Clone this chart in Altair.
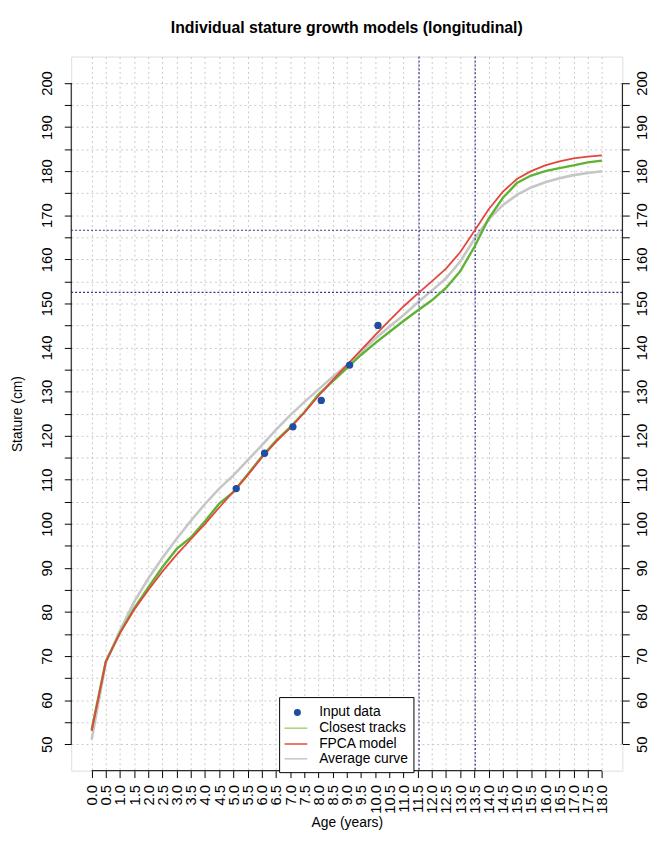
import altair as alt
import pandas as pd

# ---------------- data ----------------
ages = [0.0, 0.5, 1.0, 1.5, 2.0, 2.5, 3.0, 3.5, 4.0, 4.5, 5.0, 5.5, 6.0, 6.5,
        7.0, 7.5, 8.0, 8.5, 9.0, 9.5, 10.0, 10.5, 11.0, 11.5, 12.0, 12.5,
        13.0, 13.5, 14.0, 14.5, 15.0, 15.5, 16.0, 16.5, 17.0, 17.5, 18.0]

fpca_model = [53.0, 68.7, 75.2, 80.5, 85.0, 89.2, 93.0, 96.5, 100.0, 103.7,
              107.3, 111.0, 115.0, 118.6, 121.7, 125.2, 129.0, 132.6, 136.0,
              139.4, 142.8, 146.1, 149.3, 152.2, 155.0, 157.9, 161.6, 166.4,
              171.3, 175.3, 178.2, 180.0, 181.3, 182.2, 182.9, 183.3, 183.6]

closest_tracks = [53.3, 68.8, 75.3, 80.8, 85.6, 90.2, 94.3, 96.9, 100.6, 104.6,
                  107.2, 111.2, 115.2, 118.8, 121.9, 125.3, 129.3, 132.3, 135.3,
                  138.3, 141.0, 143.5, 146.0, 148.4, 150.7, 153.5, 157.3, 162.8,
                  169.2, 173.9, 177.3, 179.0, 180.0, 180.7, 181.3, 182.0, 182.4]

average_curve = [51.0, 68.5, 75.8, 82.3, 87.6, 92.3, 96.6, 100.7, 104.5, 108.0,
                 111.0, 114.4, 117.8, 121.3, 124.6, 127.6, 130.5, 133.3, 136.0,
                 139.0, 142.0, 144.7, 147.3, 150.2, 152.9, 155.7, 159.5, 164.6,
                 169.0, 172.3, 174.6, 176.3, 177.5, 178.4, 179.1, 179.6, 180.0]

input_ages = [5.1, 6.1, 7.1, 8.1, 9.1, 10.1]
input_stature = [108, 116, 122, 128, 136, 145]

ref_ages = [11.55, 13.53]
ref_stature = [152.5, 166.6]

y_ticks = [50, 55, 60, 65, 70, 75, 80, 85, 90, 95, 100, 105, 110, 115, 120,
           125, 130, 135, 140, 145, 150, 155, 160, 165, 170, 175, 180, 185,
           190, 195, 200]

legend_labels = ["Input data", "Closest tracks", "FPCA model", "Average curve"]

# ---------------- styling ----------------
W, H = 558, 723
FONT = "Liberation Sans"
GREEN = "#5fb233"
RED = "#e4463d"
GRAY = "#c6c6c6"
BLUE = "#1d4f9e"
NAVY = "#34348f"
GRID = "#c9c9c9"

xscale = alt.Scale(domain=[-0.72, 18.72], nice=False, zero=False)
yscale = alt.Scale(domain=[44, 206], nice=False, zero=False)

df_avg = pd.DataFrame({"age": ages, "stature": average_curve})
df_close = pd.DataFrame({"age": ages, "stature": closest_tracks})
df_fpca = pd.DataFrame({"age": ages, "stature": fpca_model})
df_pts = pd.DataFrame({"age": input_ages, "stature": input_stature})
df_vref = pd.DataFrame({"age": ref_ages})
df_href = pd.DataFrame({"stature": ref_stature})
df_yaxis = pd.DataFrame({"lo": [min(y_ticks)], "hi": [max(y_ticks)]})
df_xaxis = pd.DataFrame({"lo": [min(ages)], "hi": [max(ages)]})
one = pd.DataFrame({"k": [0]})

common_label = dict(labelFont=FONT, labelFontSize=15, labelColor="black",
                    tickColor="black", tickSize=7, tickWidth=1,
                    labelOverlap=False, labelFlush=False, domain=False)

x_axis = alt.Axis(values=ages, format=".1f", labelAngle=270, labelAlign="right",
                  labelBaseline="middle", labelPadding=7,
                  grid=True, gridColor=GRID, gridDash=[2, 3], gridWidth=1,
                  title="Age (years)", titleFont=FONT, titleFontSize=14,
                  titleFontWeight="normal", titleColor="black",
                  titleX=W / 2, titleY=53, titleAlign="center",
                  titleBaseline="middle", **common_label)

y_axis_left = alt.Axis(values=y_ticks, format="d",
                       labelExpr="datum.value % 10 == 0 ? datum.label : ''",
                       labelAngle=270, labelAlign="center", labelBaseline="bottom",
                       labelPadding=10,
                       grid=True, gridColor=GRID, gridDash=[2, 3], gridWidth=1,
                       title="Stature (cm)", titleFont=FONT, titleFontSize=14,
                       titleFontWeight="normal", titleColor="black",
                       titleAngle=270, titleX=-54, titleY=H / 2,
                       titleAlign="center", titleBaseline="middle", **common_label)

y_axis_right = alt.Axis(values=y_ticks, format="d", orient="right",
                        labelExpr="datum.value % 10 == 0 ? datum.label : ''",
                        labelAngle=270, labelAlign="center", labelBaseline="top",
                        labelPadding=5, grid=False, title=None, **common_label)

# axes + average curve
avg = alt.Chart(df_avg).mark_line(color=GRAY, strokeWidth=2.6).encode(
    x=alt.X("age:Q", scale=xscale, axis=x_axis),
    y=alt.Y("stature:Q", scale=yscale, axis=y_axis_left),
)
right_axis = alt.Chart(df_avg).mark_line(opacity=0).encode(
    x=alt.X("age:Q", scale=xscale, axis=None),
    y=alt.Y("stature:Q", scale=yscale, axis=y_axis_right),
)

# axis lines spanning the tick range (R style)
left_line = alt.Chart(df_yaxis).mark_rule(color="black", strokeWidth=1).encode(
    x=alt.value(0), y=alt.Y("lo:Q", scale=yscale, axis=None), y2="hi:Q")
right_line = alt.Chart(df_yaxis).mark_rule(color="black", strokeWidth=1).encode(
    x=alt.value(W), y=alt.Y("lo:Q", scale=yscale, axis=None), y2="hi:Q")
bottom_line = alt.Chart(df_xaxis).mark_rule(color="black", strokeWidth=1).encode(
    y=alt.value(H), x=alt.X("lo:Q", scale=xscale, axis=None), x2="hi:Q")

vref = alt.Chart(df_vref).mark_rule(color=NAVY, strokeDash=[2, 2], strokeWidth=1.2).encode(
    x=alt.X("age:Q", scale=xscale, axis=None))
href = alt.Chart(df_href).mark_rule(color=NAVY, strokeDash=[2, 2], strokeWidth=1.2).encode(
    y=alt.Y("stature:Q", scale=yscale, axis=None))

close = alt.Chart(df_close).mark_line(color=GREEN, strokeWidth=2.4).encode(
    x=alt.X("age:Q", scale=xscale, axis=None),
    y=alt.Y("stature:Q", scale=yscale, axis=None))
fpca = alt.Chart(df_fpca).mark_line(color=RED, strokeWidth=1.8).encode(
    x=alt.X("age:Q", scale=xscale, axis=None),
    y=alt.Y("stature:Q", scale=yscale, axis=None))
pts = alt.Chart(df_pts).mark_circle(color=BLUE, opacity=1, size=55).encode(
    x=alt.X("age:Q", scale=xscale, axis=None),
    y=alt.Y("stature:Q", scale=yscale, axis=None))

# ---------------- legend (drawn box) ----------------
LX0, LX1, LY0, LY1 = 211, 347, 649, 725
ROWS = [664, 680, 696, 711]
box = alt.Chart(one).mark_rect(fill="white", stroke="black", strokeWidth=1).encode(
    x=alt.value(LX0), x2=alt.value(LX1), y=alt.value(LY0), y2=alt.value(LY1))
legend_layers = [box]
legend_layers.append(alt.Chart(one).mark_circle(color=BLUE, opacity=1, size=50).encode(
    x=alt.value(229), y=alt.value(ROWS[0])))
for row, col in zip(ROWS[1:], ["#a9d170", RED, GRAY]):
    legend_layers.append(alt.Chart(one).mark_rule(color=col, strokeWidth=1.5).encode(
        x=alt.value(216), x2=alt.value(239), y=alt.value(row)))
for row, lab in zip(ROWS, legend_labels):
    legend_layers.append(alt.Chart(one).mark_text(
        text=lab, font=FONT, fontSize=14, color="black", align="left",
        baseline="middle").encode(x=alt.value(251), y=alt.value(row)))

chart = alt.layer(
    avg, right_axis, vref, href, close, fpca, pts,
    left_line, right_line, bottom_line, *legend_layers
).resolve_axis(x="independent", y="independent").resolve_scale(
    x="shared", y="shared").properties(
    width=W, height=H,
    title=alt.TitleParams("Individual stature growth models (longitudinal)",
                          font=FONT, fontSize=16, fontWeight="bold",
                          anchor="middle", frame="group", offset=20, color="black"),
    autosize=alt.AutoSizeParams(type="none"),
    padding={"left": 64, "top": 44, "right": 29, "bottom": 62},
).configure_view(stroke=None).configure(background="white")

chart.save("out.html", embed_options={"renderer": "svg", "actions": False})
